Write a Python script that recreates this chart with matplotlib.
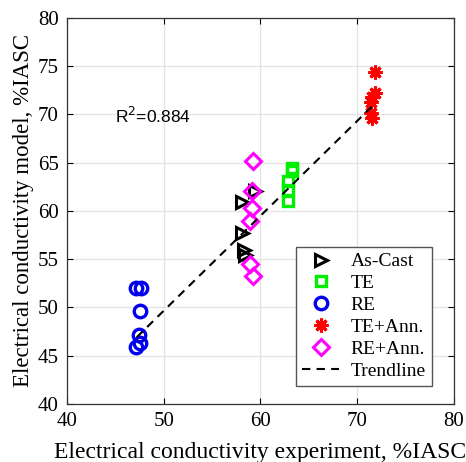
import matplotlib
matplotlib.use("Agg")
import matplotlib.pyplot as plt

# Measured vs. modelled electrical conductivity (%IASC)
as_cast_x = [59.4, 58.1, 58.1, 58.3, 58.4]
as_cast_y = [62.1, 60.9, 57.7, 55.9, 55.4]

te_x = [63.3, 63.3, 62.8, 62.8, 62.8]
te_y = [64.5, 64.1, 63.1, 62.2, 61.0]

re_x = [47.1, 47.6, 47.5, 47.4, 47.5, 47.1]
re_y = [52.0, 52.0, 49.6, 47.1, 46.3, 45.9]

te_ann_x = [71.8, 71.8, 71.5, 71.4, 71.4, 71.5]
te_ann_y = [74.4, 72.2, 71.8, 71.3, 70.1, 69.6]

re_ann_x = [59.2, 59.1, 59.1, 58.9, 58.9, 59.2]
re_ann_y = [65.2, 62.1, 60.3, 59.0, 54.5, 53.3]

trend_x = [47.2, 71.7]
trend_y = [46.9, 71.0]

r_squared = 0.884

ticks = [40, 50, 60, 70, 80]
yticks = [40, 45, 50, 55, 60, 65, 70, 75, 80]

serif = ["Liberation Serif", "DejaVu Serif"]

fig = plt.figure(figsize=(4.66, 4.62), dpi=100)
ax = fig.add_axes([0.144, 0.126, 0.830, 0.835])

ax.plot(as_cast_x, as_cast_y, linestyle="none", marker=">", markersize=9,
        markerfacecolor="none", markeredgecolor="black", markeredgewidth=2.2,
        label="As-Cast")
ax.plot(te_x, te_y, linestyle="none", marker="s", markersize=7.5,
        markerfacecolor="none", markeredgecolor="#00ee00", markeredgewidth=2.4,
        label="TE")
ax.plot(re_x, re_y, linestyle="none", marker="o", markersize=9,
        markerfacecolor="none", markeredgecolor="#0000ee", markeredgewidth=2.4,
        label="RE")
ax.plot(te_ann_x, te_ann_y, linestyle="none", marker=(8, 2, 0), markersize=10,
        markerfacecolor="red", markeredgecolor="red", markeredgewidth=2.2,
        label="TE+Ann.")
ax.plot(re_ann_x, re_ann_y, linestyle="none", marker="D", markersize=8,
        markerfacecolor="none", markeredgecolor="#ff00ff", markeredgewidth=2.2,
        label="RE+Ann.")
ax.plot(trend_x, trend_y, linestyle=(0, (4, 3)), color="black", linewidth=1.5,
        label="Trendline")

ax.text(45.0, 69.8, "R$^2$=%.3f" % r_squared, fontsize=12.5,
        family=["Liberation Sans", "DejaVu Sans"], va="center", ha="left")

ax.set_xlim(40, 80)
ax.set_ylim(40, 80)
ax.set_xticks(ticks)
ax.set_yticks(yticks)
ax.grid(True, color="#e3e3e3", linewidth=0.9)
ax.set_axisbelow(True)
ax.tick_params(direction="in", top=True, right=True, length=4, width=0.8,
               labelsize=15)
ax.tick_params(axis="x", pad=6)
ax.tick_params(axis="y", pad=6)
for lbl in ax.get_xticklabels() + ax.get_yticklabels():
    lbl.set_family(serif)
for sp in ax.spines.values():
    sp.set_linewidth(0.9)
    sp.set_color("#333333")

ax.set_xlabel("Electrical conductivity experiment, %IASC", fontsize=17,
              family=serif, labelpad=8)
ax.set_ylabel("Electrical conductivity model, %IASC", fontsize=16.5,
              family=serif, labelpad=3)

leg = ax.legend(loc="lower right", bbox_to_anchor=(0.943, 0.047),
                prop={"family": serif, "size": 14}, fancybox=False,
                framealpha=1, edgecolor="#555555", handlelength=1.9,
                handletextpad=0.6, borderpad=0.3, labelspacing=0.22,
                borderaxespad=0)
leg.get_frame().set_linewidth(1.0)

fig.savefig("out.png", dpi=100)
